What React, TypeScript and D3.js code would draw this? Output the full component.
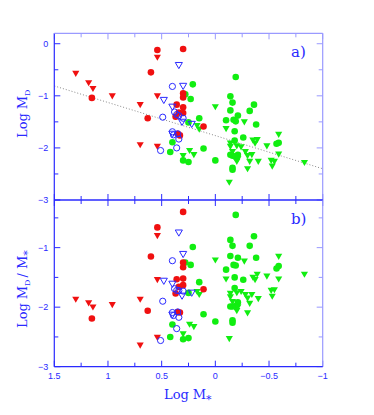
import React from "react";
import * as d3 from "d3";

// Log M_* and Log M_D, one pair per source
const redDots: [number, number][] = [
  [0.54, -0.12], [0.3, -0.1], [0.6, -0.55], [1.15, -1.04], [0.63, -1.43],
  [0.3, -0.95], [0.3, -1.03], [0.36, -1.17], [0.3, -1.22], [0.34, -1.32],
  [0.3, -1.33], [0.37, -1.4], [0.11, -1.59], [0.35, -1.73], [0.33, -1.76],
];
const redTris: [number, number][] = [
  [1.3, -0.55], [1.18, -0.73], [1.14, -0.84], [0.96, -0.98], [0.7, -1.15],
  [0.54, -0.24], [0.54, -0.98], [0.7, -1.92], [0.54, -1.95],
];
const blueRings: [number, number][] = [
  [0.4, -0.82], [0.49, -1.41], [0.38, -1.31], [0.36, -1.36], [0.34, -1.38],
  [0.3, -1.43], [0.4, -1.69], [0.39, -1.75], [0.35, -1.73], [0.34, -1.83],
  [0.36, -2.0], [0.51, -2.05],
];
const blueTris: [number, number][] = [
  [0.34, -0.39], [0.3, -0.79], [0.48, -1.06], [0.4, -1.19], [0.31, -1.48],
  [0.22, -1.52], [0.4, -1.71],
];
const greenDots: [number, number][] = [
  [0.21, -0.78], [0.28, -0.97], [0.23, -1.06], [0.15, -1.43], [0.25, -1.51],
  [0.4, -1.89], [0.42, -2.08], [0.3, -2.24], [0.25, -2.27], [0.11, -2.01],
  [0.0, -2.24], [-0.19, -0.64], [-0.14, -1.01], [-0.16, -1.13], [-0.14, -1.28],
  [-0.1, -1.47], [-0.17, -1.46], [-0.19, -1.49], [-0.21, -1.38], [-0.36, -1.17],
  [-0.32, -1.29], [-0.38, -1.55], [-0.18, -1.68], [-0.26, -1.8], [-0.18, -1.86],
  [-0.59, -1.9], [-0.57, -1.92], [-0.14, -2.13], [-0.16, -2.15], [-0.21, -2.13],
  [-0.16, -2.42], [-0.16, -2.38], [-0.19, -2.17],
];
const greenTris: [number, number][] = [
  [0.3, -2.13], [0.24, -2.03], [0.2, -2.11], [0.17, -1.55], [0.15, -1.62],
  [0.0, -1.19], [-0.1, -1.61], [-0.27, -1.48], [-0.14, -1.89], [-0.35, -1.83],
  [-0.39, -1.82], [-0.37, -1.89], [-0.48, -1.94], [-0.59, -1.72], [-0.2, -1.94],
  [-0.18, -2.16], [-0.21, -2.19], [-0.2, -2.24], [-0.28, -2.05], [-0.3, -2.13],
  [-0.34, -2.11], [-0.32, -2.24], [-0.4, -2.24], [-0.3, -2.38], [-0.52, -2.22],
  [-0.55, -2.24], [-0.53, -2.33], [-0.59, -2.1], [-0.83, -2.26], [-0.13, -2.64],
  [-0.14, -1.95], [-0.16, -2.05], [-0.24, -1.96],
];

// dotted fit in panel a)
const fitLine: [number, number][] = [[1.5, -0.81], [-1, -2.4]];

const xTickLabels = ["1.5", "1", "0.5", "0", "-0.5", "-1"];
const yTopLabels = ["0", "-1", "-2", "-3"];
const yBotLabels = ["-1", "-2", "-3"];

const BLUE = "#2a2aff";
const LIGHT = "#9a9aff";
const RED = "#f01010";
const GREEN = "#11ee11";
const FONT = "'Liberation Sans', Arial, sans-serif";
const SERIF = "'DejaVu Serif', 'Liberation Serif', serif";

const L = 54.3, R = 322.7, T = 33.3, M = 200, B = 366.7;

const x = d3.scaleLinear().domain([1.5, -1]).range([L, R]);
const yTop = d3.scaleLinear().domain([-3, 0.2]).range([M, T]);
const yBot = d3.scaleLinear().domain([-3, -0.2]).range([B, M]);

const tri = d3.symbol(d3.symbolTriangle, 22)()!;

const minus = (s: string) => s.replace("-", "\u2212");

function Points({ y, ratio }: { y: d3.ScaleLinear<number, number>; ratio: boolean }) {
  const v = (d: [number, number]) => (ratio ? d[1] - d[0] : d[1]);
  const dots = (data: [number, number][], fill: string, key: string) =>
    data.map((d, i) => <circle key={key + i} cx={x(d[0])} cy={y(v(d))} r={3.3} fill={fill} />);
  const tris = (data: [number, number][], fill: string, stroke: string, key: string) =>
    data.map((d, i) => (
      <path
        key={key + i}
        d={tri}
        transform={`translate(${x(d[0])},${y(v(d)) + 0.5}) rotate(180)`}
        fill={fill}
        stroke={stroke}
        strokeWidth={stroke === "none" ? 0 : 1}
      />
    ));
  return (
    <g>
      {dots(greenDots, GREEN, "gd")}
      {tris(greenTris, GREEN, "none", "gt")}
      {dots(redDots, RED, "rd")}
      {tris(redTris, RED, "none", "rt")}
      {blueRings.map((d, i) => (
        <circle key={"br" + i} cx={x(d[0])} cy={y(v(d))} r={3.1} fill="none" stroke={BLUE} strokeWidth={1} />
      ))}
      {tris(blueTris, "none", BLUE, "bt")}
    </g>
  );
}

function Frame({ y, top, bottom, yTicks }: { y: d3.ScaleLinear<number, number>; top: number; bottom: number; yTicks: number[] }) {
  const xt = d3.range(-1, 1.5001, 0.25);
  return (
    <g>
      {yTicks.map((t) => {
        const big = Math.abs(t - Math.round(t)) < 1e-6;
        const len = big ? 6 : 4;
        return (
          <g key={"y" + t}>
            <line x1={L} x2={L + len} y1={y(t)} y2={y(t)} stroke={BLUE} strokeWidth={1} />
            <line x1={R - len} x2={R} y1={y(t)} y2={y(t)} stroke={LIGHT} strokeWidth={1} />
          </g>
        );
      })}
      {xt.map((t) => {
        const big = Math.abs(t * 2 - Math.round(t * 2)) < 1e-6;
        const len = big ? 6 : 4;
        return (
          <g key={"x" + t}>
            <line x1={x(t)} x2={x(t)} y1={bottom} y2={bottom - len} stroke={BLUE} strokeWidth={1} />
            <line x1={x(t)} x2={x(t)} y1={top} y2={top + len} stroke={top === T ? LIGHT : BLUE} strokeWidth={1} />
          </g>
        );
      })}
      <line x1={L} x2={L} y1={top} y2={bottom} stroke={BLUE} strokeWidth={1.2} />
      <line x1={R} x2={R} y1={top} y2={bottom} stroke={LIGHT} strokeWidth={1.2} />
      <line x1={L} x2={R} y1={top} y2={top} stroke={top === T ? LIGHT : BLUE} strokeWidth={1.2} />
      <line x1={L} x2={R} y1={bottom} y2={bottom} stroke={BLUE} strokeWidth={1.2} />
    </g>
  );
}

export default function App() {
  const line = d3
    .line<[number, number]>()
    .x((d) => x(d[0]))
    .y((d) => yTop(d[1]));
  const topTicks = d3.range(-3, 0.2001, 0.5);
  const botTicks = d3.range(-3, -0.1999, 0.5);
  return (
    <svg width={374} height={415} style={{ position: "absolute", left: 0, top: 0, background: "#fff" }}>
      <path d={line(fitLine)!} stroke="#8a8a8a" strokeWidth={1} strokeDasharray="1,2" fill="none" />
      <Points y={yTop} ratio={false} />
      <Points y={yBot} ratio={true} />
      <Frame y={yTop} top={T} bottom={M} yTicks={topTicks} />
      <Frame y={yBot} top={M} bottom={B} yTicks={botTicks} />

      <g fill={BLUE} fontFamily={FONT} fontSize={9}>
        {yTopLabels.map((s) => (
          <text key={"tl" + s} x={L - 6} y={yTop(+s) + 3.2} textAnchor="end">{minus(s)}</text>
        ))}
        {yBotLabels.map((s) => (
          <text key={"bl" + s} x={L - 6} y={yBot(+s) + 3.2} textAnchor="end">{minus(s)}</text>
        ))}
        {xTickLabels.map((s) => (
          <text key={"xl" + s} x={x(+s)} y={B + 12.5} textAnchor="middle">{minus(s)}</text>
        ))}
      </g>

      <g fill={BLUE} fontFamily={SERIF}>
        <text x={291} y={57} fontSize={15}>a)</text>
        <text x={291} y={224} fontSize={15}>b)</text>
        <text transform="translate(27,138) rotate(-90)" fontSize={13}>
          Log<tspan dx={4}>M</tspan><tspan fontSize={8} dy={3}>D</tspan>
        </text>
        <text transform="translate(27,328) rotate(-90)" fontSize={13}>
          Log<tspan dx={4}>M</tspan><tspan fontSize={8} dy={3}>D</tspan>
          <tspan dy={-3} dx={2}>/</tspan>
          <tspan dx={4}>M</tspan>
          <tspan fontSize={11} dy={4}>*</tspan>
        </text>
        <text x={164} y={399} fontSize={13}>
          Log<tspan dx={4}>M</tspan><tspan fontSize={11} dy={4}>*</tspan>
        </text>
      </g>
    </svg>
  );
}
